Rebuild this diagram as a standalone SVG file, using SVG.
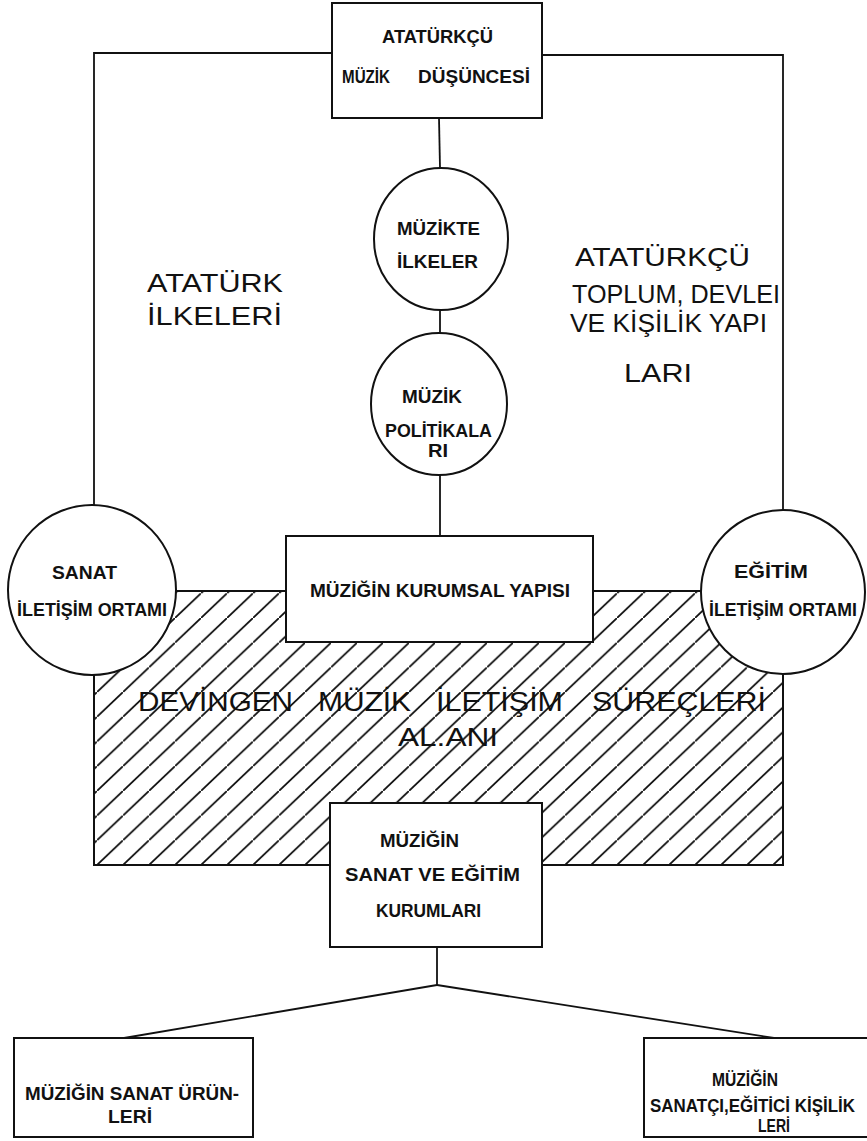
<svg xmlns="http://www.w3.org/2000/svg" width="867" height="1141" viewBox="0 0 867 1141">
<style>
.ln{fill:none;stroke:#111;stroke-width:1.8}
.box{fill:#fff;stroke:#111;stroke-width:2}
.sm{font-family:"Liberation Sans",Arial,sans-serif;font-weight:bold;font-size:18.5px;fill:#111}
.lg{font-family:"Liberation Sans",Arial,sans-serif;font-weight:normal;font-size:25px;fill:#111}
</style>
<defs>
<pattern id="hatch" patternUnits="userSpaceOnUse" x="123" y="840.3" width="26" height="24.7">
<path d="M-2,26.6 L28,-1.9" stroke="#111" stroke-width="1.8" fill="none"/>
</pattern>
</defs>
<rect width="867" height="1141" fill="#fff"/>

<g id="hatched-area">
<rect x="94" y="591" width="689" height="274" fill="url(#hatch)" stroke="#111" stroke-width="2"/>
<text class="lg" y="711" style="font-size:27px"><tspan x="138" textLength="155" lengthAdjust="spacingAndGlyphs">DEVİNGEN</tspan><tspan x="318" textLength="93" lengthAdjust="spacingAndGlyphs">MÜZİK</tspan><tspan x="436" textLength="127" lengthAdjust="spacingAndGlyphs">İLETİŞİM</tspan><tspan x="592" textLength="174" lengthAdjust="spacingAndGlyphs">SÜREÇLERİ</tspan></text>
<text class="lg" x="398" y="746" textLength="100" lengthAdjust="spacingAndGlyphs">AL.ANI</text>
</g>

<g id="connectors">
<polyline class="ln" points="332,53 94,53 94,506"/>
<polyline class="ln" points="542,55 783,55 783,510"/>
<line class="ln" x1="439" y1="118" x2="440" y2="168"/>
<line class="ln" x1="440" y1="310" x2="440" y2="333"/>
<line class="ln" x1="440" y1="475" x2="440" y2="536"/>
<line class="ln" x1="437" y1="947" x2="437" y2="985"/>
<line class="ln" x1="437" y1="985" x2="124" y2="1038"/>
<line class="ln" x1="437" y1="985" x2="774" y2="1038"/>
</g>

<g id="label-ataturk-ilkeleri">
<text class="lg" x="147" y="292" textLength="136" lengthAdjust="spacingAndGlyphs">ATATÜRK</text>
<text class="lg" x="147" y="325" textLength="135" lengthAdjust="spacingAndGlyphs">İLKELERİ</text>
</g>

<g id="label-ataturkcu-toplum">
<text class="lg" x="575" y="266" textLength="175" lengthAdjust="spacingAndGlyphs">ATATÜRKÇÜ</text>
<text class="lg" x="572" y="303" textLength="208" lengthAdjust="spacingAndGlyphs">TOPLUM, DEVLEI</text>
<text class="lg" x="570" y="332" textLength="197" lengthAdjust="spacingAndGlyphs">VE KİŞİLİK YAPI</text>
<text class="lg" x="624" y="382" textLength="68" lengthAdjust="spacingAndGlyphs">LARI</text>
</g>

<g id="node-muzik-dusuncesi">
<rect class="box" x="332" y="3" width="210" height="115"/>
<text class="sm" x="382" y="43" textLength="111" lengthAdjust="spacingAndGlyphs">ATATÜRKÇÜ</text>
<text class="sm" y="83"><tspan x="342" textLength="48" lengthAdjust="spacingAndGlyphs">MÜZİK</tspan><tspan x="418" textLength="112" lengthAdjust="spacingAndGlyphs">DÜŞÜNCESİ</tspan></text>
</g>

<g id="node-muzikte-ilkeler">
<ellipse class="box" cx="441" cy="239" rx="67" ry="71"/>
<text class="sm" x="397" y="235" textLength="83" lengthAdjust="spacingAndGlyphs">MÜZİKTE</text>
<text class="sm" x="397" y="268" textLength="81" lengthAdjust="spacingAndGlyphs">İLKELER</text>
</g>

<g id="node-muzik-politikalari">
<ellipse class="box" cx="439" cy="404" rx="68" ry="71"/>
<text class="sm" x="402" y="403" textLength="60" lengthAdjust="spacingAndGlyphs">MÜZİK</text>
<text class="sm" x="385" y="437" textLength="107" lengthAdjust="spacingAndGlyphs">POLİTİKALA</text>
<text class="sm" x="428" y="457" textLength="20" lengthAdjust="spacingAndGlyphs">RI</text>
</g>

<g id="node-kurumsal-yapi">
<rect class="box" x="286" y="536" width="307" height="106"/>
<text class="sm" x="310" y="597" textLength="260" lengthAdjust="spacingAndGlyphs">MÜZİĞİN KURUMSAL YAPISI</text>
</g>

<g id="node-sanat-iletisim">
<ellipse class="box" cx="92" cy="590" rx="84" ry="85"/>
<text class="sm" x="52" y="579" textLength="65" lengthAdjust="spacingAndGlyphs">SANAT</text>
<text class="sm" x="17" y="616" textLength="150" lengthAdjust="spacingAndGlyphs">İLETİŞİM ORTAMI</text>
</g>

<g id="node-egitim-iletisim">
<ellipse class="box" cx="783" cy="592" rx="82" ry="82"/>
<text class="sm" x="734" y="578" textLength="74" lengthAdjust="spacingAndGlyphs">EĞİTİM</text>
<text class="sm" x="709" y="616" textLength="148" lengthAdjust="spacingAndGlyphs">İLETİŞİM ORTAMI</text>
</g>

<g id="node-sanat-egitim-kurumlari">
<rect class="box" x="330" y="803" width="212" height="144"/>
<text class="sm" x="380" y="847" textLength="79" lengthAdjust="spacingAndGlyphs">MÜZİĞİN</text>
<text class="sm" x="345" y="881" textLength="175" lengthAdjust="spacingAndGlyphs">SANAT VE EĞİTİM</text>
<text class="sm" x="376" y="917" textLength="105" lengthAdjust="spacingAndGlyphs">KURUMLARI</text>
</g>

<g id="node-sanat-urunleri">
<rect class="box" x="14" y="1038" width="239" height="99"/>
<text class="sm" x="25" y="1100" textLength="214" lengthAdjust="spacingAndGlyphs">MÜZİĞİN SANAT ÜRÜN-</text>
<text class="sm" x="108" y="1123" textLength="44" lengthAdjust="spacingAndGlyphs">LERİ</text>
</g>

<g id="node-kisilikleri">
<rect class="box" x="644" y="1038" width="240" height="99"/>
<text class="sm" x="712" y="1086" textLength="66" lengthAdjust="spacingAndGlyphs">MÜZİĞİN</text>
<text class="sm" x="650" y="1112" textLength="205" lengthAdjust="spacingAndGlyphs">SANATÇI,EĞİTİCİ KİŞİLİK</text>
<text class="sm" x="758" y="1132" textLength="32" lengthAdjust="spacingAndGlyphs">LERİ</text>
</g>
</svg>
